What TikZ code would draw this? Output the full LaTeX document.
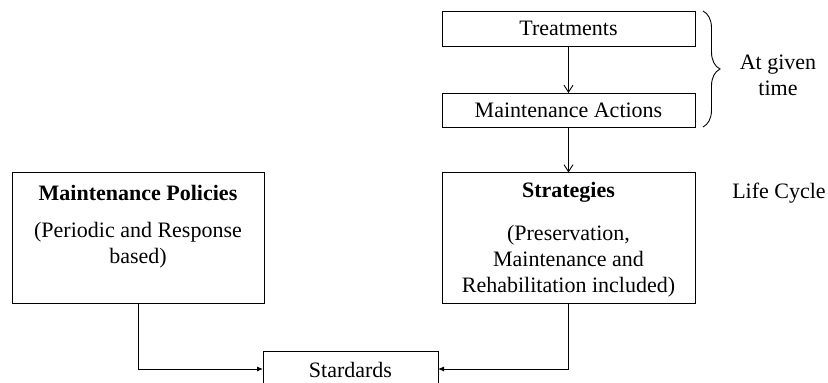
\documentclass[tikz,border=0pt]{standalone}
\usepackage{fontspec}
\setmainfont{Liberation Serif}
\usetikzlibrary{arrows.meta,decorations.pathreplacing}
\begin{document}
\begin{tikzpicture}[x=1pt,y=-1pt,
  every node/.style={inner sep=0pt,outer sep=0pt},
  txt/.style={font=\fontsize{22}{26}\selectfont,align=center},
  bold/.style={font=\fontsize{22}{26}\selectfont\bfseries},
  box/.style={draw,line width=0.9pt,rectangle},
  flow/.style={line width=0.9pt,-{Straight Barb[length=7pt,width=9pt,line width=0.9pt]}},
  merge/.style={line width=0.9pt,-{Latex[length=6pt,width=5pt]}}]
\useasboundingbox (0,0) rectangle (828,383);
\clip (0,0) rectangle (828,383);

% time-based boxes
\node[box,minimum width=253pt,minimum height=35pt] (treat) at (568.5,28.5) {};
\node[txt] (treatT) at (568.5,28.5) {Treatments};
\node[box,minimum width=253pt,minimum height=34pt] (act) at (568.5,110) {};
\node[txt] (actT) at (568.5,110) {Maintenance Actions};

% brace with its label
\coordinate (bt) at (703,11);
\coordinate (bb) at (703,127);
\draw[line width=0.9pt,decorate,decoration={brace,amplitude=17pt}] (bt) -- (bb);
\node[txt] (given) at (778,75) {At given\\time};

% life-cycle boxes
\node[box,minimum width=253pt,minimum height=131pt] (strat) at (568.5,238) {};
\node[bold] (stratT) at (568.5,192) {Strategies};
\node[txt] (stratD) at (568.5,261) {(Preservation,\\Maintenance and\\Rehabilitation included)};

\node[box,minimum width=252pt,minimum height=131pt] (pol) at (138,238) {};
\node[bold] (polT) at (138,193) {Maintenance Policies};
\node[txt] (polD) at (138,245) {(Periodic and Response\\based)};

\node[txt] (life) at (779,193) {Life Cycle};

% standards box (runs off the lower edge)
\node[box,minimum width=175pt,minimum height=36pt] (stand) at (350.5,369) {};
\node[txt] (standT) at (350.5,370) {Stardards};

% connectors
\draw[flow] (treat) -- (act);
\draw[flow] (act) -- (strat);
\draw[merge] (pol.south) |- (stand.west);
\draw[merge] (strat.south) |- (stand.east);
\end{tikzpicture}
\end{document}
